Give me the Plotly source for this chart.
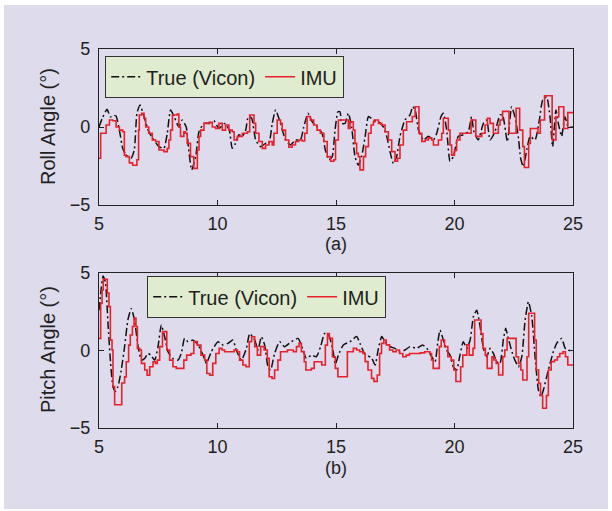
import plotly.graph_objects as go

# ---------------- data (time s, angle deg) ----------------
roll_vicon = [(5.0,0.0),(5.15,0.6),(5.34,1.13),(5.48,0.65),(5.62,0.75),(5.72,0.7),(5.86,-0.2),(6.0,-1.37),
    (6.14,-1.8),(6.35,-2.0),(6.49,-1.47),(6.6,0.88),(6.73,1.41),(6.9,0.67),(7.1,-0.3),(7.32,-0.83),
    (7.53,-1.26),(7.74,-1.37),(7.88,-0.4),(8.02,1.09),(8.17,0.67),(8.37,0.0),(8.51,0.45),(8.68,0.0),
    (8.77,-1.26),(8.91,-2.75),(9.08,-1.9),(9.22,-0.3),(9.43,0.23),(9.64,0.23),(9.85,0.4),(10.06,-0.1),
    (10.3,0.23),(10.5,-0.2),(10.62,-1.37),(10.76,-1.05),(10.9,-0.5),(11.05,-0.6),(11.19,-0.2),(11.3,0.67),
    (11.44,0.56),(11.61,-0.83),(11.82,-1.26),(12.03,-1.05),(12.17,-1.05),(12.31,0.23),(12.45,1.09),
    (12.66,0.23),(12.87,-0.83),(13.08,-1.15),(13.29,-0.83),(13.5,-0.83),(13.64,0.0),(13.82,0.88),
    (13.99,0.34),(14.2,0.0),(14.41,-0.4),(14.55,-1.47),(14.7,-2.1),(14.84,-1.9),(14.96,-0.2),(15.08,0.98),
    (15.17,0.98),(15.24,0.23),(15.38,0.23),(15.52,0.88),(15.66,0.0),(15.8,-1.9),(15.94,-2.45),(16.08,-1.9),
    (16.23,-0.6),(16.37,0.67),(16.58,0.45),(16.79,0.34),(17.0,0.0),(17.14,-0.6),(17.28,-1.58),(17.42,-2.35),
    (17.56,-1.9),(17.7,-0.6),(17.91,0.45),(18.12,0.77),(18.24,1.3),(18.34,1.09),(18.48,-0.2),(18.69,-0.83),
    (18.9,-0.6),(19.11,-0.83),(19.25,-0.4),(19.43,0.67),(19.53,0.88),(19.67,-0.2),(19.81,-2.2),(19.95,-1.9),
    (20.16,-0.6),(20.37,-0.5),(20.58,-0.3),(20.72,0.66),(20.82,-0.3),(21.0,-0.83),(21.22,0.23),(21.36,0.45),
    (21.5,-0.83),(21.71,-0.3),(21.92,0.77),(22.03,0.77),(22.23,-0.95),(22.41,1.3),(22.55,0.66),(22.69,-0.6),
    (22.79,-2.0),(22.9,-2.54),(23.05,-1.47),(23.19,-0.6),(23.4,-0.83),(23.58,0.45),(23.72,1.73),(23.89,1.94),
    (24.03,0.66),(24.14,-1.26),(24.28,1.09),(24.38,0.23),(24.52,-0.6),(24.66,0.66),(24.8,0.0),(25.0,0.0)]

roll_imu = [(5.0,-2.0),(5.07,-0.4),(5.3,0.13),(5.44,0.45),(5.58,0.4),(5.72,0.0),(5.86,-0.2),(6.0,-0.3),
    (6.07,-1.8),(6.14,-1.9),(6.28,-2.3),(6.42,-2.45),(6.6,-2.1),(6.67,-0.2),(6.7,0.77),(6.8,0.88),(6.9,0.55),
    (6.97,0.0),(7.1,-0.4),(7.25,-0.83),(7.39,-0.93),(7.53,-1.47),(7.74,-1.58),(7.88,-1.37),(7.95,-0.83),
    (8.02,-0.2),(8.1,0.77),(8.3,0.83),(8.37,0.0),(8.44,-0.6),(8.58,-0.3),(8.65,-0.4),(8.72,-1.05),(8.86,-1.9),
    (9.0,-2.65),(9.15,-1.47),(9.22,-0.6),(9.29,-0.2),(9.43,0.23),(9.64,0.3),(9.78,0.0),(9.92,-0.1),
    (10.06,0.23),(10.2,-0.2),(10.34,0.13),(10.48,-0.2),(10.62,-0.3),(10.7,-0.83),(10.84,-0.6),(11.05,-0.4),
    (11.26,-0.3),(11.36,0.77),(11.54,0.23),(11.61,-0.4),(11.75,-0.93),(11.89,-1.37),(12.03,-1.15),
    (12.17,-0.93),(12.31,-1.15),(12.38,-0.4),(12.52,0.45),(12.66,0.23),(12.73,-0.2),(12.87,-0.83),
    (13.01,-1.3),(13.15,-1.15),(13.29,-0.93),(13.43,-0.83),(13.57,-0.9),(13.68,-0.4),(13.78,0.67),
    (13.92,0.45),(14.06,0.13),(14.2,-0.2),(14.34,-0.4),(14.49,-0.93),(14.63,-1.9),(14.77,-2.2),(14.91,-2.1),
    (14.98,-0.83),(15.1,0.45),(15.52,-0.1),(15.59,0.34),(15.73,-0.2),(15.8,-1.05),(15.87,-1.69),(15.94,-1.9),
    (16.01,-2.75),(16.16,-1.9),(16.25,-1.26),(16.37,-0.4),(16.48,0.13),(16.58,0.34),(16.65,0.45),(16.79,0.23),
    (16.93,0.13),(17.07,-0.3),(17.21,-0.83),(17.35,-1.58),(17.49,-2.2),(17.6,-2.0),(17.7,-1.15),(17.84,-0.2),
    (17.98,0.34),(18.22,0.67),(18.34,1.3),(18.5,-0.4),(18.62,-0.93),(18.76,-0.83),(18.9,-0.7),(19.04,-0.83),
    (19.11,-1.15),(19.32,-0.83),(19.46,-0.4),(19.53,0.56),(19.74,-0.2),(19.81,-1.15),(19.88,-1.8),
    (20.0,-1.5),(20.09,-0.83),(20.23,-0.4),(20.7,0.45),(20.9,-0.6),(21.15,-0.4),(21.29,0.13),(21.39,0.56),
    (21.5,0.23),(21.64,-0.4),(21.85,0.13),(21.92,0.45),(22.03,1.0),(22.3,-0.4),(22.6,1.2),(22.75,-0.2),
    (22.88,-1.26),(22.95,-2.6),(23.13,-1.05),(23.2,-0.1),(23.52,-0.4),(23.62,0.45),(23.8,2.0),(24.12,-0.83),
    (24.28,0.66),(24.4,1.3),(24.61,-0.1),(24.78,0.92),(25.0,0.92)]

pitch_vicon = [(5.0,2.6),(5.08,3.8),(5.17,4.8),(5.27,4.4),(5.38,1.75),(5.49,-0.83),(5.59,-2.33),(5.69,-2.65),
    (5.8,-2.33),(5.94,-1.26),(6.08,0.25),(6.22,1.97),(6.36,2.7),(6.5,1.97),(6.65,0.25),(6.79,-0.62),
    (6.93,-0.51),(7.07,-0.19),(7.18,-0.3),(7.35,-0.62),(7.49,0.25),(7.63,1.65),(7.77,0.89),(7.91,-0.08),
    (8.12,-0.51),(8.33,-0.62),(8.47,-0.19),(8.61,0.78),(8.76,0.57),(8.97,0.67),(9.18,0.35),(9.39,-0.3),
    (9.53,-0.83),(9.74,-0.08),(10.02,0.57),(10.23,0.35),(10.44,0.46),(10.65,0.67),(10.79,0.03),(11.01,-0.62),
    (11.22,0.14),(11.36,1.1),(11.57,0.67),(11.71,0.03),(11.85,0.89),(11.99,0.35),(12.13,-1.05),(12.24,-1.26),
    (12.41,-0.19),(12.62,0.57),(12.83,0.25),(13.12,0.57),(13.4,0.78),(13.61,0.03),(13.75,-0.51),(13.96,-0.3),
    (14.17,-0.4),(14.35,0.25),(14.52,1.1),(14.69,1.0),(14.87,0.03),(14.97,-0.9),(15.1,-0.3),(15.31,0.36),
    (15.59,0.57),(15.87,0.9),(16.01,0.46),(16.2,-0.19),(16.3,-0.3),(16.51,-0.5),(16.65,-0.94),(16.79,0.14),
    (16.93,0.9),(17.07,0.57),(17.28,0.25),(17.49,0.14),(17.7,-0.08),(17.91,0.03),(18.12,0.25),(18.41,0.14),
    (18.65,0.36),(18.83,0.14),(19.04,-0.4),(19.18,-0.72),(19.29,0.46),(19.39,1.32),(19.53,0.68),(19.67,0.03),
    (19.81,-0.3),(19.95,-1.05),(20.09,-1.26),(20.23,-0.3),(20.37,0.57),(20.52,0.14),(20.66,0.68),(20.8,2.2),
    (20.94,2.6),(21.08,1.54),(21.22,0.14),(21.36,-0.4),(21.5,0.14),(21.64,-0.19),(21.78,-0.72),(21.92,-0.83),
    (22.06,0.68),(22.16,1.43),(22.27,0.78),(22.49,-0.4),(22.7,-1.05),(22.84,-0.4),(22.98,1.97),(23.12,3.15),
    (23.26,2.2),(23.4,-0.4),(23.54,-2.55),(23.65,-2.98),(23.75,-2.55),(23.96,-1.26),(24.17,-0.08),
    (24.31,0.46),(24.52,0.78),(24.67,0.14),(24.8,0.03),(25.0,-0.08)]

pitch_imu = [(5.0,0.78),(5.07,3.04),(5.13,3.9),(5.18,4.6),(5.35,3.7),(5.42,2.83),(5.48,0.67),(5.55,0.03),
    (5.59,-2.33),(5.66,-3.5),(5.96,-2.1),(6.08,-1.7),(6.15,-0.73),(6.25,0.35),(6.32,1.0),(6.41,1.55),
    (6.48,2.1),(6.56,1.55),(6.62,0.14),(6.72,0.03),(6.79,-0.83),(6.93,-1.26),(7.03,-1.6),(7.14,-1.05),
    (7.28,-0.73),(7.38,-0.83),(7.46,-0.62),(7.56,0.25),(7.68,1.22),(7.86,0.03),(7.98,-0.62),(8.12,-1.05),
    (8.26,-1.15),(8.58,-0.62),(8.7,-0.3),(8.88,-0.19),(9.0,0.57),(9.15,0.35),(9.3,-0.3),(9.46,-0.62),
    (9.55,-1.48),(9.68,-1.6),(9.8,-0.83),(9.93,-0.19),(10.07,0.14),(10.19,0.03),(10.3,-0.08),(10.7,0.03),
    (10.84,-0.08),(10.93,-0.62),(11.07,-0.94),(11.2,-1.05),(11.34,0.57),(11.44,0.89),(11.57,0.25),
    (11.68,-0.3),(11.82,0.25),(11.97,0.03),(12.1,-0.51),(12.18,-1.69),(12.3,-1.8),(12.41,-1.26),(12.55,-0.62),
    (12.66,-0.08),(12.95,0.03),(13.2,-0.08),(13.33,0.25),(13.44,0.46),(13.54,-0.08),(13.66,-0.73),
    (13.73,-1.26),(13.96,-1.15),(14.08,-0.73),(14.4,-0.94),(14.55,0.35),(14.64,1.1),(14.72,0.78),
    (14.85,-0.4),(14.97,-1.15),(15.08,-1.69),(15.48,-0.08),(15.73,0.14),(15.87,0.03),(16.0,-0.08),
    (16.14,-0.19),(16.23,-0.72),(16.35,-1.26),(16.5,-1.8),(16.6,-2.0),(16.74,-1.58),(16.84,-0.19),
    (16.92,0.46),(17.02,0.68),(17.12,0.36),(17.26,0.03),(17.4,-0.08),(17.54,0.03),(17.68,-0.19),(17.82,-0.4),
    (17.96,-0.3),(18.1,-0.19),(18.55,-0.15),(18.74,-0.08),(18.96,-0.19),(19.03,-0.61),(19.1,-1.15),
    (19.36,0.25),(19.44,0.68),(19.58,0.25),(19.72,-0.4),(19.86,-0.61),(19.97,-1.26),(20.06,-2.0),
    (20.26,-1.05),(20.35,-0.3),(20.52,0.36),(20.62,-0.3),(20.78,0.14),(20.85,1.97),(21.12,1.1),(21.2,0.14),
    (21.3,-0.3),(21.38,-1.15),(21.58,-0.4),(21.66,-0.61),(21.76,-0.83),(21.86,-1.58),(22.04,-0.4),
    (22.12,0.03),(22.22,0.78),(22.6,-0.4),(22.7,-0.83),(22.8,-1.26),(22.88,-1.9),(23.06,-0.4),(23.13,2.4),
    (23.38,0.68),(23.45,-1.26),(23.55,-2.12),(23.63,-2.9),(23.72,-3.73),(23.88,-2.9),(23.96,-1.26),
    (24.08,-0.72),(24.22,-0.61),(24.34,-0.4),(24.44,-0.19),(24.58,-0.08),(24.68,-0.4),(24.78,-0.94),
    (25.0,-0.94)]

x_ticks = [5, 10, 15, 20, 25]
y_ticks = [-5, 0, 5]
series_names = ["True (Vicon)", "IMU"]
panel_titles = ["Roll Angle (°)", "Pitch Angle (°)"]
panel_labels = ["(a)", "(b)"]

# ---------------- styling ----------------
FONT = "Liberation Sans, Arial, Helvetica, sans-serif"
TXT = "#231f20"
LAV = "#dedbec"
PLOT_BG = "#fffbd0"
LEG_BG = "#dfeccf"
RED = "#e8202a"
VICON_DASH = "8px,3px,2px,3px"

W, H = 612, 511
L, R, T, B = 99, 39, 49, 83
ph = H - T - B  # 379
pw = W - L - R  # 474

def py(pix):  # pixel row -> paper y
    return (H - B - pix) / ph

def px(pix):  # pixel col -> paper x
    return (pix - L) / pw

def unzip(pairs):
    return [p[0] for p in pairs], [p[1] for p in pairs]

fig = go.Figure()

panels = [(roll_vicon, roll_imu, "x", "y", "legend"),
          (pitch_vicon, pitch_imu, "x2", "y2", "legend2")]
for vic, imu, xa, ya, lg in panels:
    tv, vv = unzip(vic)
    ti, vi = unzip(imu)
    fig.add_trace(go.Scatter(x=tv, y=vv, mode="lines", name=series_names[0], xaxis=xa, yaxis=ya,
                             legend=lg, line=dict(color="#111111", width=1.5, dash=VICON_DASH, shape="spline",
                                                  smoothing=0.5)))
    fig.add_trace(go.Scatter(x=ti, y=vi, mode="lines", name=series_names[1], xaxis=xa, yaxis=ya,
                             legend=lg, line=dict(color=RED, width=1.6, shape="hv")))

axis_common = dict(showline=True, linecolor="#222222", linewidth=1.2, mirror="ticks", ticks="inside",
                   ticklen=5, tickcolor="#222222", showgrid=False, zeroline=False,
                   tickfont=dict(family=FONT, size=18, color=TXT))

leg_common = dict(orientation="h", xanchor="left", yanchor="top", bgcolor=LEG_BG, bordercolor="#333333",
                  borderwidth=1.2, font=dict(family=FONT, size=20, color=TXT), itemwidth=30, tracegroupgap=0)

fig.update_layout(
    width=W, height=H,
    margin=dict(l=L, r=R, t=T, b=B),
    paper_bgcolor="white",
    plot_bgcolor=PLOT_BG,
    font=dict(family=FONT, color=TXT),
    xaxis=dict(domain=[0, 1], anchor="y", range=[5, 25], tickvals=x_ticks, ticklabelstandoff=2, **axis_common),
    yaxis=dict(domain=[py(205), 1], anchor="x", range=[-5, 5], tickvals=y_ticks, ticklabelstandoff=4,
               **axis_common),
    xaxis2=dict(domain=[0, 1], anchor="y2", range=[5, 25], tickvals=x_ticks, ticklabelstandoff=2, **axis_common),
    yaxis2=dict(domain=[0, py(273)], anchor="x2", range=[-5, 5], tickvals=y_ticks, ticklabelstandoff=4,
                **axis_common),
    legend=dict(x=px(105), y=py(56), **leg_common),
    legend2=dict(x=px(147), y=py(276), **leg_common),
    showlegend=True,
)

# lavender background panel with thin white border
fig.add_shape(type="rect", xref="paper", yref="paper", x0=px(4), x1=px(608), y0=py(509), y1=py(5),
              fillcolor=LAV, line=dict(width=0), layer="below")

# axis titles and panel labels
ann_font = dict(family=FONT, size=20, color=TXT)
lab_font = dict(family=FONT, size=18, color=TXT)
fig.add_annotation(x=px(48), y=py(127), xref="paper", yref="paper", text=panel_titles[0], textangle=-90,
                   xanchor="center", yanchor="middle", showarrow=False, font=ann_font)
fig.add_annotation(x=px(48), y=py(350), xref="paper", yref="paper", text=panel_titles[1], textangle=-90,
                   xanchor="center", yanchor="middle", showarrow=False, font=ann_font)
fig.add_annotation(x=0.5, y=py(244), xref="paper", yref="paper", text=panel_labels[0],
                   xanchor="center", yanchor="middle", showarrow=False, font=lab_font)
fig.add_annotation(x=0.5, y=py(468), xref="paper", yref="paper", text=panel_labels[1],
                   xanchor="center", yanchor="middle", showarrow=False, font=lab_font)

fig.write_html("out.html", config={"displayModeBar": False},
               post_script="document.body.style.margin='0px';")
